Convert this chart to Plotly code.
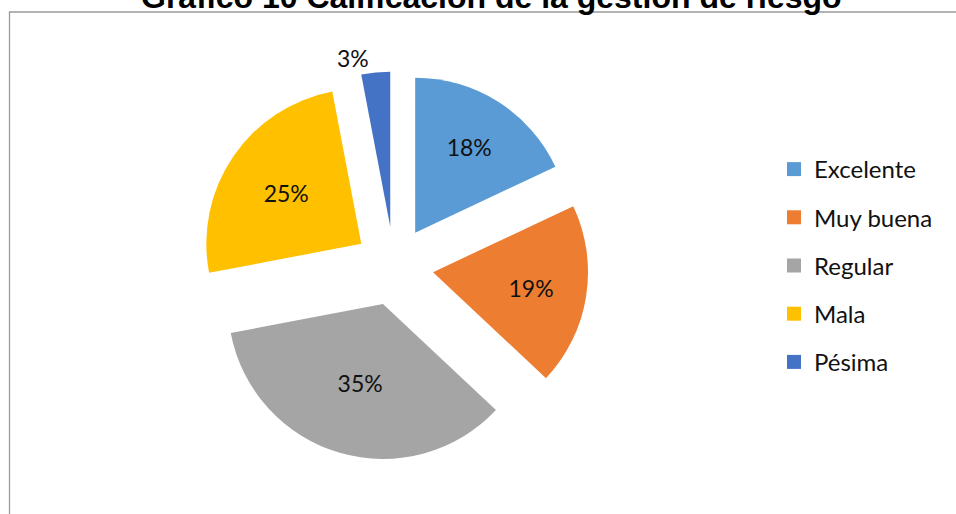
import plotly.graph_objects as go

# Calificación de la gestión de riesgo (porcentaje de respuestas)
categorias = ["Excelente", "Muy buena", "Regular", "Mala", "Pésima"]
porcentajes = [18, 19, 35, 25, 3]
colores = ["#5B9BD5", "#ED7D31", "#A5A5A5", "#FFC000", "#4472C4"]
titulo = "Gráfico 10 Calificación de la gestión de riesgo"

W, H = 956, 514

fig = go.Figure()

fig.add_trace(go.Pie(
    labels=categorias,
    values=porcentajes,
    sort=False,
    direction="clockwise",
    rotation=0,
    pull=0.255,
    marker=dict(colors=colores, line=dict(width=0)),
    textinfo="percent",
    textposition=["inside", "inside", "inside", "inside", "outside"],
    insidetextorientation="horizontal",
    textfont=dict(family="Lato", size=23, color="#111111"),
    showlegend=False,
    hoverinfo="label+percent",
    domain=dict(x=[199.5 / W, 588.5 / W], y=[(H - 460.5) / H, (H - 71.5) / H]),
))

# Legend entries, one group per category so the rows can be spaced out
for nombre, color in zip(categorias, colores):
    fig.add_trace(go.Scatter(
        x=[None], y=[None], mode="markers", name=nombre,
        legendgroup=nombre,
        marker=dict(symbol="square", size=14, color=color, line=dict(width=0)),
        hoverinfo="skip",
    ))

fig.update_layout(
    width=W, height=H,
    margin=dict(l=0, r=0, t=0, b=0, autoexpand=False),
    paper_bgcolor="white",
    plot_bgcolor="white",
    xaxis=dict(visible=False),
    yaxis=dict(visible=False),
    showlegend=True,
    legend=dict(
        x=774 / W, y=(H - 147) / H, xanchor="left", yanchor="top",
        font=dict(family="Lato", size=24, color="#111111"),
        tracegroupgap=14,
        itemclick=False, itemdoubleclick=False,
        bgcolor="rgba(0,0,0,0)",
    ),
    annotations=[dict(
        text="<b>" + titulo + "</b>",
        x=492 / W, y=(H - 17) / H, xref="paper", yref="paper",
        xanchor="center", yanchor="bottom", showarrow=False,
        font=dict(family="Liberation Sans", size=32, color="#000000"),
    )],
    shapes=[dict(
        type="rect", xref="paper", yref="paper",
        x0=9.5 / W, x1=1.05, y0=-0.05, y1=(H - 12) / H,
        line=dict(color="#9a9a9a", width=1.3), fillcolor="rgba(0,0,0,0)",
        layer="below",
    )],
)

fig.write_html("out.html")
